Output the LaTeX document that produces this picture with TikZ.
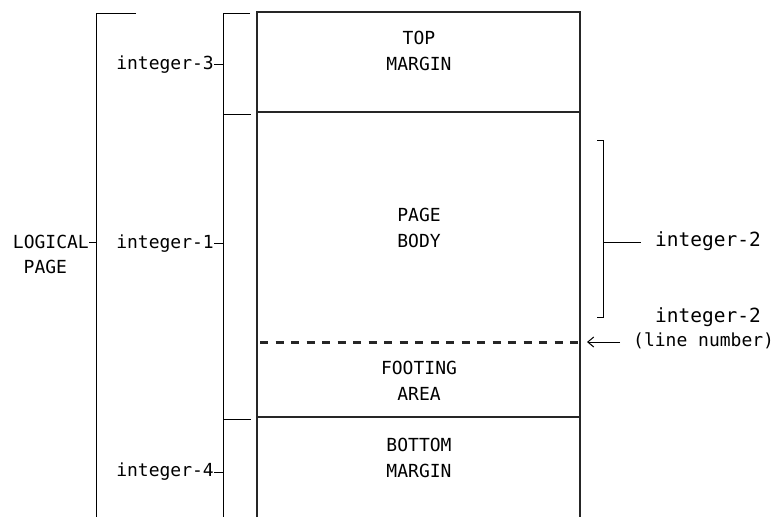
\documentclass[tikz,border=0pt]{standalone}
\usepackage{fontspec}
\setmonofont{DejaVu Sans Mono}
\usetikzlibrary{arrows.meta}
\begin{document}
\begin{tikzpicture}[x=1pt, y=-1pt,
        box/.style={draw=black!85, line width=2.6pt},
        bar/.style={draw, line width=1pt},
        txt/.style={font=\ttfamily\fontsize{18}{26}\selectfont, inner sep=0pt, align=center},
        rtxt/.style={txt, font=\ttfamily\fontsize{19.5}{26}\selectfont},
        pointer/.style={bar, -{Straight Barb[length=6pt, width=10pt]}}
    ]
    \useasboundingbox (0,0) rectangle (782,517);
    % the page and its areas
    \draw[box] (257,517) -- (257,12) -- (580,12) -- (580,517);
    \draw[box] (257,112) -- (580,112);
    \draw[box] (257,417) -- (580,417);
    \draw[box, line width=3pt, dash pattern=on 8pt off 7.5pt] (260,342) -- (580,342) coordinate (footline);
    \node[txt] (top) at (419,51) {TOP\\MARGIN};
    \node[txt] (body) at (419,227.5) {PAGE\\BODY};
    \node[txt] (footing) at (419,380.5) {FOOTING\\AREA};
    \node[txt] (bottom) at (419,457.5) {BOTTOM\\MARGIN};
    % brackets
    \coordinate (lbar) at (96,0);
    \coordinate (mbar) at (223,0);
    \coordinate (rbar) at (603,0);
    \draw[bar] (136,13) -- (lbar |- 0,13) -- (lbar |- 0,517);
    \draw[bar] (250,13) -- (mbar |- 0,13) -- (mbar |- 0,517);
    \draw[bar] (mbar |- 0,114) -- (251,114);
    \draw[bar] (mbar |- 0,419) -- (251,419);
    \draw[bar] (597,140) -- (rbar |- 0,140) -- (rbar |- 0,317) -- (597,317);
    % left labels
    \node[txt, anchor=east] (logical) at (89,242) {LOGICAL};
    \node[txt, anchor=base west] (logpage) at ([shift={(10.8,25)}]logical.base west) {PAGE};
    \node[txt, anchor=east] (int3) at (214,64.5) {integer-3};
    \node[txt, anchor=east] (int1) at (214,243.5) {integer-1};
    \node[txt, anchor=east] (int4) at (214,472) {integer-4};
    \draw[bar] (logical.east) -- (logical.east -| lbar);
    \draw[bar] (int3.east) -- (int3.east -| mbar);
    \draw[bar] (int1.east) -- (int1.east -| mbar);
    \draw[bar] (int4.east) -- (int4.east -| mbar);
    % right labels
    \node[rtxt, anchor=base west] (int2) at (655,246) {integer-2};
    \draw[bar] (rbar |- 0,242) -- ([xshift=-14pt]int2.west |- 0,242);
    \node[rtxt, anchor=base west] (int2b) at (655,322) {integer-2};
    \node[txt, anchor=base west] (linenum) at (633,346) {(line number)};
    \draw[pointer] ([xshift=-13pt]linenum.west |- footline) -- ([xshift=7pt]footline);
\end{tikzpicture}
\end{document}
